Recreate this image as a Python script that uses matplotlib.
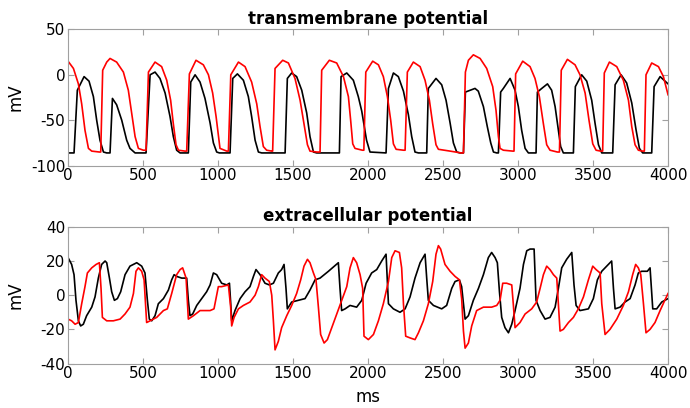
import matplotlib
matplotlib.use("Agg")
import matplotlib.pyplot as plt

# transmembrane potential, black trace (ms, mV)
tm_black_t = [0, 40, 62, 107, 140, 169, 191, 213, 236, 258, 280, 296, 324, 358, 391, 413, 447, 520,
              547, 580, 613, 647, 680, 702, 724, 747, 802, 818, 847, 880, 913, 947, 969, 991, 1009,
              1080, 1098, 1129, 1169, 1202, 1224, 1247, 1269, 1291, 1447, 1462, 1491, 1524, 1558,
              1591, 1613, 1636, 1658, 1809, 1820, 1858, 1902, 1935, 1958, 1990, 2013, 2120, 2136,
              2169, 2202, 2236, 2269, 2291, 2313, 2336, 2391, 2402, 2425, 2453, 2491, 2520, 2547,
              2569, 2591, 2613, 2636, 2649, 2713, 2735, 2769, 2795, 2818, 2836, 2858, 2869, 2884,
              2902, 2947, 2980, 3002, 3024, 3047, 3069, 3107, 3120, 3129, 3158, 3196, 3224, 3247,
              3269, 3284, 3302, 3369, 3382, 3424, 3458, 3491, 3513, 3536, 3558, 3631, 3647, 3687,
              3724, 3758, 3787, 3809, 3831, 3891, 3907, 3947, 3973, 4000]
tm_black_v = [-86, -86, -17, -2, -7, -24, -50, -72, -85, -86, -86, -26, -33, -50, -72, -81, -86, -86,
              0, 3, -4, -20, -46, -68, -83, -86, -86, -8, 0, -8, -26, -53, -75, -85, -86,
              -86, -4, 1, -6, -24, -46, -72, -85, -86, -86, -4, 2, -2, -17,
              -42, -68, -85, -86, -86, -2, 2, -6, -24, -40, -72, -85, -86, -15,
              2, -2, -18, -44, -68, -85, -86, -86, -15, -10, -4, -11, -28, -53,
              -75, -85, -86, -86, -19, -15, -18, -35, -57, -75, -85, -86, -86, -19,
              -15, -4, -17, -35, -61, -81, -86, -86, -86, -19, -15, -10, -17, -35,
              -61, -79, -86, -86, -13, 0, -7, -28, -53, -77, -86, -86, -11, 0,
              -9, -31, -61, -81, -86, -86, -13, -2, -6, -10]

# transmembrane potential, red trace (ms, mV)
tm_red_t = [0, 36, 69, 91, 113, 136, 158, 209, 218, 231, 258, 280, 324, 369, 402, 425, 447, 469,
            502, 520, 536, 580, 624, 658, 684, 702, 720, 736, 780, 791, 809, 853, 902, 936, 964,
            987, 1013, 1058, 1069, 1085, 1136, 1180, 1224, 1258, 1280, 1302, 1324, 1358, 1364,
            1380, 1431, 1469, 1513, 1547, 1573, 1596, 1613, 1658, 1680, 1691, 1742, 1791, 1836,
            1869, 1884, 1898, 1913, 1962, 1972, 1985, 2031, 2069, 2102, 2129, 2151, 2169, 2187,
            2236, 2247, 2262, 2302, 2347, 2380, 2409, 2431, 2453, 2469, 2547, 2620, 2636, 2649,
            2669, 2702, 2747, 2791, 2831, 2853, 2869, 2880, 2902, 2965, 2973, 2984, 3031, 3080,
            3113, 3142, 3169, 3191, 3213, 3262, 3276, 3288, 3329, 3380, 3413, 3447, 3473, 3498,
            3520, 3551, 3564, 3575, 3609, 3658, 3702, 3736, 3758, 3780, 3802, 3830, 3842, 3853,
            3891, 3936, 3969, 4000]
tm_red_v = [15, 7, -10, -32, -61, -81, -84, -85, -85, 5, 14, 18, 14, 3, -17, -43, -68, -81,
            -83, -83, 3, 14, 9, -6, -28, -54, -77, -83, -84, -84, 1, 16, 11, 0, -20,
            -46, -81, -84, -84, 0, 14, 9, -8, -32, -57, -79, -83, -84, -84,
            7, 16, 13, -4, -28, -54, -77, -84, -85, -85, 5, 16, 13, -2,
            -24, -50, -76, -81, -83, -83, 3, 15, 11, -2, -24, -50, -76, -82,
            -83, -83, 3, 14, 9, -6, -28, -54, -77, -82, -84, -86, -86, 3,
            16, 22, 18, 7, -13, -39, -68, -81, -83, -84, -84, 1, 15, 9,
            -4, -24, -54, -77, -83, -85, -85, 5, 17, 11, 0, -20, -50, -76,
            -83, -84, -84, 2, 14, 9, -6, -28, -57, -77, -83, -84, -84, 0,
            13, 9, -2, -22]

# extracellular potential, black trace (ms, mV)
ex_black_t = [0, 24, 40, 53, 69, 84, 102, 124, 158, 180, 202, 224, 247, 258, 276, 291, 309, 329,
              351, 380, 413, 458, 491, 513, 529, 542, 558, 580, 602, 636, 669, 691, 707, 724, 758,
              791, 802, 813, 831, 858, 891, 924, 947, 969, 991, 1024, 1058, 1076, 1084, 1091, 1113,
              1147, 1180, 1213, 1236, 1253, 1280, 1313, 1342, 1369, 1402, 1424, 1440, 1453, 1462,
              1491, 1536, 1580, 1613, 1647, 1680, 1736, 1802, 1813, 1824, 1847, 1880, 1924, 1958,
              1987, 2024, 2058, 2091, 2120, 2130, 2136, 2169, 2213, 2247, 2280, 2313, 2347, 2380,
              2391, 2402, 2436, 2491, 2524, 2558, 2580, 2609, 2624, 2647, 2669, 2702, 2736, 2769,
              2802, 2824, 2847, 2862, 2876, 2891, 2913, 2936, 2958, 2980, 3013, 3036, 3058, 3080,
              3107, 3120, 3147, 3180, 3213, 3247, 3269, 3291, 3324, 3358, 3373, 3387, 3413, 3469,
              3502, 3529, 3558, 3591, 3624, 3636, 3647, 3680, 3713, 3747, 3780, 3802, 3824, 3862,
              3880, 3898, 3924, 3958, 4000]
ex_black_v = [22, 18, 12, -3, -15, -18, -17, -12, -7, -1, 10, 18, 20, 19, 10, 2, -3, -2,
              2, 12, 17, 19, 17, 13, -3, -14, -15, -12, -5, -2, 3, 9, 12, 11, 10,
              10, -3, -12, -11, -6, -2, 2, 6, 13, 12, 7, 6, 7, -4, -15, -9,
              -2, 2, 5, 11, 15, 12, 7, 6, 7, 13, 15, 18, 4, -8,
              -4, -3, -2, 3, 9, 10, 14, 19, 4, -9, -8, -6, -7, -3,
              7, 13, 15, 20, 24, 5, -5, -8, -10, -8, -1, 10, 19, 24,
              10, -3, -6, -8, -6, 4, 8, 9, 5, -14, -12, -3, 4, 12,
              22, 25, 22, 19, 2, -13, -19, -22, -17, -9, 4, 18, 26, 27,
              27, -3, -9, -14, -13, -7, 4, 16, 21, 25, 6, -6, -9, -8,
              -2, 9, 14, 17, 20, 4, -8, -7, -4, -2, 6, 13, 14, 14,
              16, -8, -8, -4, -2]

# extracellular potential, red trace (ms, mV)
ex_red_t = [0, 24, 47, 69, 91, 113, 129, 158, 187, 209, 220, 229, 258, 302, 347, 380, 413, 436,
            453, 469, 491, 507, 524, 547, 591, 636, 662, 691, 724, 747, 764, 787, 802, 836, 880,
            947, 973, 991, 1002, 1024, 1069, 1084, 1091, 1107, 1136, 1169, 1213, 1247, 1269, 1291,
            1313, 1342, 1358, 1369, 1380, 1402, 1424, 1458, 1491, 1524, 1551, 1573, 1596, 1613,
            1636, 1653, 1669, 1684, 1707, 1729, 1758, 1791, 1824, 1858, 1880, 1902, 1924, 1947,
            1964, 1973, 2002, 2036, 2069, 2102, 2136, 2158, 2180, 2209, 2224, 2236, 2251, 2280,
            2313, 2336, 2369, 2402, 2431, 2453, 2469, 2484, 2513, 2547, 2580, 2609, 2624, 2636,
            2647, 2669, 2691, 2724, 2769, 2824, 2858, 2880, 2898, 2924, 2958, 2969, 2980, 3013,
            3047, 3091, 3124, 3147, 3169, 3191, 3213, 3236, 3258, 3269, 3280, 3302, 3336, 3369,
            3402, 3436, 3469, 3498, 3520, 3547, 3558, 3580, 3613, 3658, 3702, 3736, 3764, 3784,
            3802, 3818, 3836, 3853, 3880, 3913, 3947, 3973, 4000]
ex_red_v = [-14, -15, -17, -16, -5, 5, 13, 16, 18, 19, 4, -13, -15, -15, -14, -11, -7, 1,
            14, 16, 14, 9, -16, -15, -13, -9, -8, 1, 12, 15, 16, 10, -14, -12, -9,
            -9, -8, 0, 5, 5, 6, -7, -18, -13, -8, -6, -4, 0, 5, 12,
            10, 8, 0, -15, -32, -27, -19, -12, -6, 1, 9, 17, 21, 19,
            13, 9, -7, -23, -28, -26, -19, -11, -3, 5, 16, 22, 19, 12,
            4, -24, -26, -23, -15, -5, 8, 22, 26, 25, 16, -5, -24, -25,
            -26, -22, -15, -5, 8, 24, 29, 27, 18, 14, 11, 9, -2, -21,
            -31, -28, -18, -9, -7, -7, -6, -3, 7, 7, 6, -6, -19, -16,
            -11, -8, -4, 4, 12, 17, 15, 12, 10, -5, -21, -20, -16, -13,
            -8, -1, 9, 17, 15, 13, -5, -23, -20, -14, -6, 2, 12, 18,
            16, 12, -5, -22, -20, -16, -9, -4, 1]

plt.rcParams["font.family"] = "DejaVu Sans"
plt.rcParams["font.size"] = 11
plt.rcParams["axes.unicode_minus"] = False

fig = plt.figure(figsize=(6.9, 4.08), dpi=100)
ax1 = fig.add_axes([0.0986, 0.594, 0.8696, 0.334])
ax2 = fig.add_axes([0.0986, 0.109, 0.8696, 0.335])

panels = [
    (ax1, tm_black_t, tm_black_v, tm_red_t, tm_red_v, "transmembrane potential", (-100, 50), [-100, -50, 0, 50]),
    (ax2, ex_black_t, ex_black_v, ex_red_t, ex_red_v, "extracellular potential", (-40, 40), [-40, -20, 0, 20, 40]),
]

for ax, bt, bv, rt, rv, title, ylim, yticks in panels:
    ax.plot(bt, bv, color="black", lw=1.2)
    ax.plot(rt, rv, color="red", lw=1.2)
    ax.set_xlim(0, 4000)
    ax.set_ylim(*ylim)
    ax.set_yticks(yticks)
    ax.set_xticks(range(0, 4001, 500))
    ax.set_title(title, fontweight="bold", fontsize=12, pad=4)
    ax.set_ylabel("mV", fontsize=12)
    ax.yaxis.set_label_coords(-0.072, 0.5)
    ax.tick_params(direction="in", top=True, right=True, length=4, color="#a0a0a0", pad=2)
    for s in ax.spines.values():
        s.set_color("#a0a0a0")

ax2.set_xlabel("ms", fontsize=12, labelpad=5)

fig.savefig("out.png", dpi=100)
